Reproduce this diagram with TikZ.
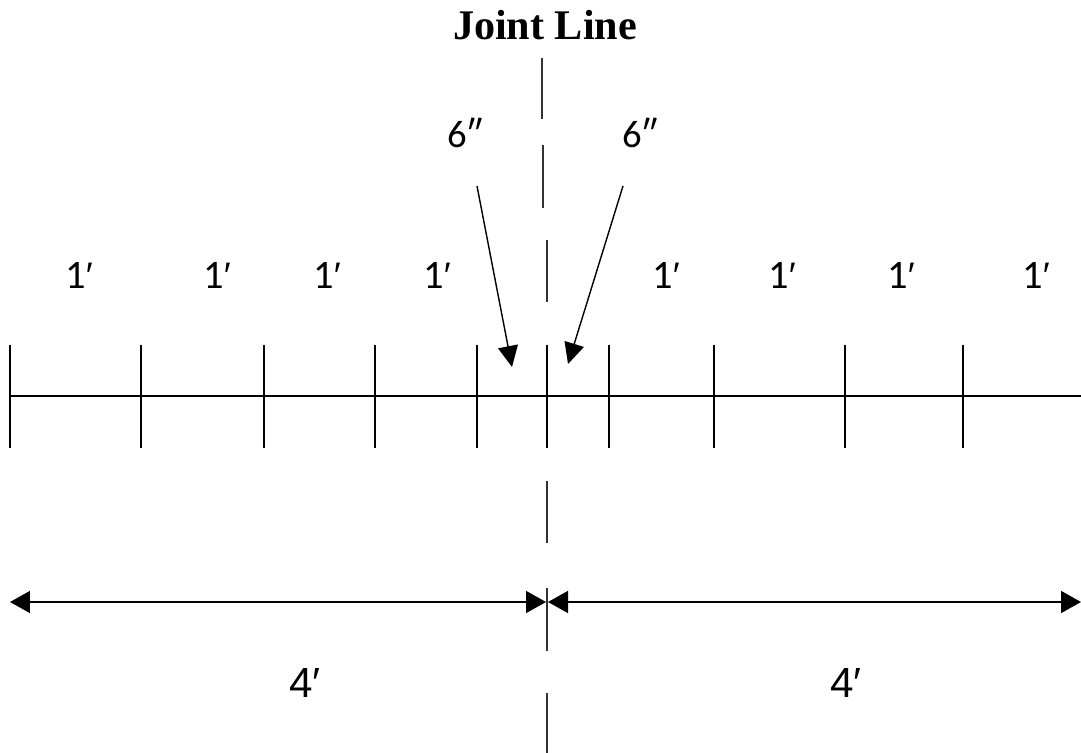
\documentclass[tikz,border=0pt]{standalone}
\usepackage{fontspec}
\setmainfont{Carlito}
\newfontfamily\headfont{Liberation Serif}
\newfontfamily\dimfont{Liberation Sans}
\newcommand{\ftmark}{{\dimfont\fontsize{21}{26}\selectfont ′}}
\usetikzlibrary{arrows.meta, positioning}
\tikzset{
    tickline/.style={line width=0.7pt, draw=black},
    jointline/.style={line width=0.7pt, draw=black!80},
    ptr/.style={-{Triangle[length=0.42cm, width=0.4cm]}, line width=0.8pt},
    dimarr/.style={{Triangle[length=0.4cm, width=0.44cm]}-{Triangle[length=0.4cm, width=0.44cm]}, line width=0.9pt},
    footlbl/.style={font=\fontsize{23}{26}\selectfont, anchor=base, inner sep=0pt},
    inchlbl/.style={font=\fontsize{22}{26}\selectfont, anchor=base, inner sep=0pt},
    dimlbl/.style={font=\dimfont\fontsize{24}{28}\selectfont, anchor=base, inner sep=0pt},
    headlbl/.style={font=\headfont\bfseries\fontsize{24}{28}\selectfont, anchor=base, inner sep=0pt}
}

\begin{document}
\begin{tikzpicture}[x=0.02cm, y=-0.02cm]
    \useasboundingbox (0,0) rectangle (1081,753);

    \node[headlbl] (title) at (545,40) {Joint Line};

    % joint line, drawn in pieces
    \foreach \x/\a/\b in {542/58/119, 543/145/208, 547/240/302, 547/481/543, 547/588/651, 547/693/753}
        \draw[jointline] (\x,\a) -- (\x,\b);

    % base line and ticks
    \coordinate (baseL) at (10,396);
    \coordinate (baseR) at (1081,396);
    \draw[tickline] (baseL) -- (baseR);
    \foreach \x in {10, 141, 264, 375, 477, 547, 609, 714, 845, 963}
        \draw[tickline] (\x,345) -- (\x,448);

    % foot labels
    \foreach \x [count=\i] in {79, 217, 327, 437, 666, 782, 901, 1036}
        \node[footlbl] (ft\i) at (\x,288) {1\ftmark};

    % six inch pointers
    \node[inchlbl] (inL) at (465,148) {6″};
    \node[inchlbl] (inR) at (640,148) {6″};
    \coordinate (pL0) at (477,186);
    \coordinate (pL1) at (512,367);
    \coordinate (pR0) at (623,186);
    \coordinate (pR1) at (568,364);
    \draw[ptr] (pL0) -- (pL1);
    \draw[ptr] (pR0) -- (pR1);

    % four foot dimensions
    \coordinate (dimL) at (10,602);
    \coordinate (dimM1) at (546,602);
    \coordinate (dimM2) at (548,602);
    \coordinate (dimR) at (1081,602);
    \draw[dimarr] (dimL) -- (dimM1);
    \draw[dimarr] (dimM2) -- (dimR);
    \node[dimlbl] (fourL) at (305,697) {4′};
    \node[dimlbl] (fourR) at (846,697) {4′};
\end{tikzpicture}
\end{document}
